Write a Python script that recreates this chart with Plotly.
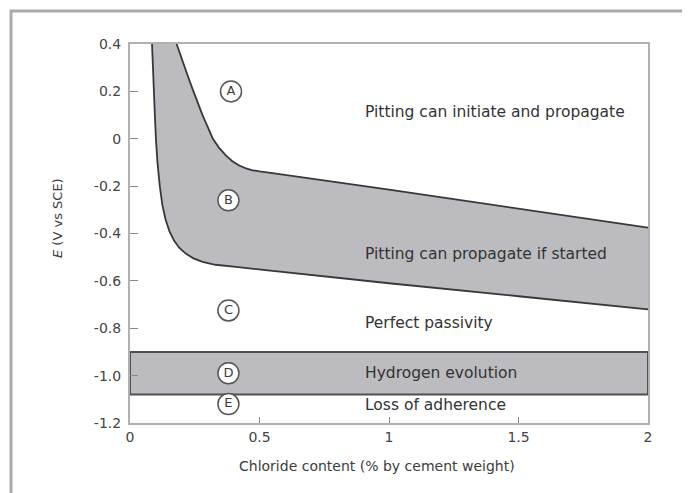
import plotly.graph_objects as go

# ---------- data ----------
# upper boundary (A / B) and lower boundary (B / C) of the shaded region
upper_x = [0.18, 0.195, 0.21, 0.228, 0.245, 0.262, 0.28, 0.30, 0.32, 0.345, 0.37, 0.395,
           0.42, 0.445, 0.47, 0.50, 0.55, 1.0, 1.5, 2.0]
upper_e = [0.40, 0.35, 0.30, 0.25, 0.20, 0.15, 0.10, 0.05, 0.0, -0.04, -0.07, -0.095,
           -0.112, -0.124, -0.132, -0.138, -0.145, -0.215, -0.295, -0.375]
lower_x = [0.085, 0.088, 0.092, 0.096, 0.10, 0.106, 0.115, 0.125, 0.137, 0.152, 0.17, 0.19,
           0.215, 0.245, 0.28, 0.33, 0.40, 1.0, 1.5, 2.0]
lower_e = [0.40, 0.30, 0.20, 0.10, 0.0, -0.10, -0.20, -0.28, -0.34, -0.39, -0.43, -0.46,
           -0.485, -0.505, -0.52, -0.532, -0.54, -0.61, -0.665, -0.72]

# hydrogen evolution band (E limits)
band_e = [-1.08, -0.90]
x_range = [0, 2]

# circled region letters
letters = ['A', 'B', 'C', 'D', 'E']
letter_x = [0.39, 0.38, 0.38, 0.38, 0.38]
letter_e = [0.20, -0.26, -0.725, -0.99, -1.12]

# region descriptions
labels = ['Pitting can initiate and propagate', 'Pitting can propagate if started',
          'Perfect passivity', 'Hydrogen evolution', 'Loss of adherence']
label_x = [0.90, 0.90, 0.90, 0.90, 0.90]
label_e = [0.115, -0.487, -0.777, -0.988, -1.123]

y_ticks = [0.4, 0.2, 0, -0.2, -0.4, -0.6, -0.8, -1.0, -1.2]
y_tick_text = ['0.4', '0.2', '0', '-0.2', '-0.4', '-0.6', '-0.8', '-1.0', '-1.2']
x_ticks = [0, 0.5, 1, 1.5, 2]
x_tick_text = ['0', '0.5', '1', '1.5', '2']

FILL = '#bbbbc0'
EDGE = '#383838'
TXT = '#3c3c3c'
FONT = 'DejaVu Sans'

fig = go.Figure()

# shaded region B (polygon: lower curve out, upper curve back)
fig.add_trace(go.Scatter(
    x=lower_x + upper_x[::-1], y=lower_e + upper_e[::-1],
    mode='lines', fill='toself', fillcolor=FILL,
    line=dict(width=0), hoverinfo='skip', showlegend=False))

for xs, es in [(upper_x, upper_e), (lower_x, lower_e)]:
    fig.add_trace(go.Scatter(x=xs, y=es, mode='lines',
                             line=dict(color=EDGE, width=1.8),
                             showlegend=False))

# band D
fig.add_trace(go.Scatter(
    x=[x_range[0], x_range[1], x_range[1], x_range[0], x_range[0]],
    y=[band_e[0], band_e[0], band_e[1], band_e[1], band_e[0]],
    mode='lines', fill='toself', fillcolor=FILL,
    line=dict(color='#505050', width=2), showlegend=False))

# circled letters
fig.add_trace(go.Scatter(
    x=letter_x, y=letter_e, mode='markers+text', text=letters,
    textposition='middle center', textfont=dict(family=FONT, size=13, color=TXT),
    marker=dict(symbol='circle', size=21, color='white', line=dict(color='#555555', width=1.5)),
    showlegend=False))

for t, x, e in zip(labels, label_x, label_e):
    fig.add_annotation(x=x, y=e, text=t, showarrow=False, xanchor='left', yanchor='middle',
                       font=dict(family=FONT, size=15.5, color='#333333'))

# axis titles placed as in the reference
fig.add_annotation(xref='paper', yref='paper', x=0.477, y=-0.087, yanchor='top',
                   text='Chloride content (% by cement weight)', showarrow=False,
                   font=dict(family=FONT, size=14, color=TXT))
fig.add_annotation(xref='paper', yref='paper', x=-0.158, y=0.54, textangle=-90,
                   text='<i>E</i> (V vs SCE)', showarrow=False,
                   font=dict(family=FONT, size=13, color=TXT))

# outer frame of the figure
fig.add_shape(type='rect', xref='paper', yref='paper', x0=-0.2297, x1=1.3, y0=-0.4, y1=1.087,
              line=dict(color='#aaaaaa', width=3), layer='below')

fig.update_layout(
    width=682, height=485,
    margin=dict(l=122, r=42, t=36, b=70),
    paper_bgcolor='white', plot_bgcolor='white',
    font=dict(family=FONT, size=14, color=TXT),
    xaxis=dict(range=x_range, tickvals=x_ticks, ticktext=x_tick_text,
               ticks='inside', ticklen=6, tickcolor='#888888',
               tickfont=dict(family=FONT, size=14, color='#444444'),
               showline=True, linecolor='#b0b0b0', linewidth=2, mirror=True,
               showgrid=False, zeroline=False),
    yaxis=dict(range=[-1.2, 0.4], tickvals=y_ticks, ticktext=y_tick_text,
               ticks='inside', ticklen=8, tickcolor='#888888', ticklabelstandoff=4,
               tickfont=dict(family=FONT, size=14, color='#444444'),
               showline=True, linecolor='#b0b0b0', linewidth=2, mirror=True,
               showgrid=False, zeroline=False),
)

fig.write_html('out.html')
